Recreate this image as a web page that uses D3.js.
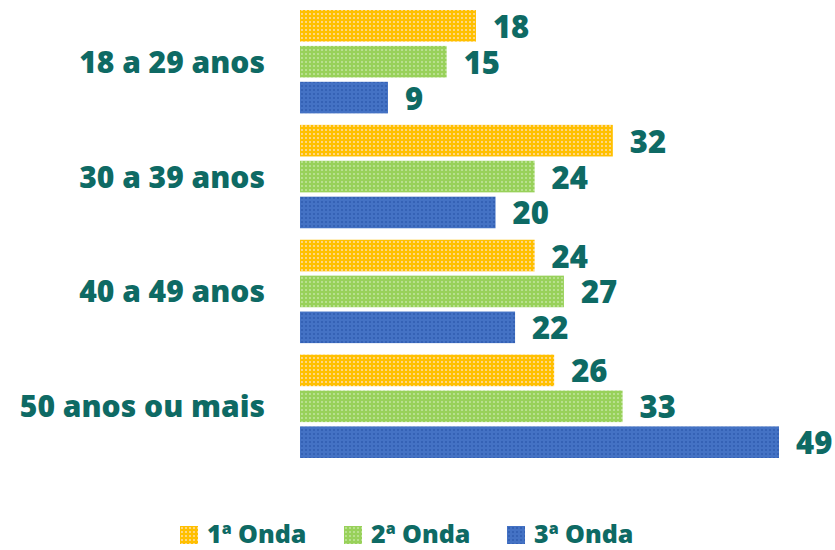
<!DOCTYPE html>
<html><head><meta charset="utf-8">
<script src="https://cdn.jsdelivr.net/npm/d3@7"></script>
<style>body{margin:0;background:#fff}svg{display:block}</style>
</head><body><svg id="c" width="835" height="550"></svg>
<script>
const categories = ["18 a 29 anos", "30 a 39 anos", "40 a 49 anos", "50 anos ou mais"];
const seriesNames = ["1ª Onda", "2ª Onda", "3ª Onda"];
const onda1 = [18, 32, 24, 26];
const onda2 = [15, 24, 27, 33];
const onda3 = [9, 20, 22, 49];
const seriesValues = [onda1, onda2, onda3];
const colors = [
  {base: "#FFC000", dot: "#FFD680"},
  {base: "#98D15A", dot: "#B8E08E"},
  {base: "#4472C4", dot: "#3562B5"}
];
const textColor = "#0E6A64";
const font = "'Open Sans', 'DejaVu Sans', sans-serif";

const svg = d3.select("#c");
const defs = svg.append("defs");
colors.forEach((c, i) => {
  const p = defs.append("pattern").attr("id", "pat" + i)
    .attr("patternUnits", "userSpaceOnUse").attr("width", 4).attr("height", 4);
  p.append("rect").attr("width", 4).attr("height", 4).attr("fill", c.base);
  p.append("rect").attr("x", 1).attr("y", 1).attr("width", 2).attr("height", 2).attr("fill", c.dot);
});

const x = d3.scaleLinear().domain([0, 49]).range([300, 779]);
const y = d3.scaleBand().domain(categories).range([10, 458]).paddingInner(0.1).paddingOuter(0);
const ys = d3.scaleBand().domain(d3.range(3)).range([0, y.bandwidth()]).paddingInner(0.12);

const data = [];
categories.forEach((cat, ci) => {
  seriesValues.forEach((vals, si) => data.push({cat, si, v: vals[ci]}));
});

svg.append("g").selectAll("rect").data(data).join("rect")
  .attr("x", x(0))
  .attr("y", d => y(d.cat) + ys(d.si))
  .attr("width", d => x(d.v) - x(0))
  .attr("height", ys.bandwidth())
  .attr("fill", d => `url(#pat${d.si})`);

svg.append("g").selectAll("text").data(data).join("text")
  .attr("x", d => x(d.v) + 17)
  .attr("y", d => y(d.cat) + ys(d.si) + ys.bandwidth() / 2 + 12)
  .attr("font-family", font).attr("font-weight", 800).attr("font-size", 31)
  .attr("fill", textColor)
  .text(d => d.v);

svg.append("g").selectAll("text").data(categories).join("text")
  .attr("x", 265)
  .attr("y", d => y(d) + y.bandwidth() / 2 + 11)
  .attr("text-anchor", "end")
  .attr("font-family", font).attr("font-weight", 800).attr("font-size", 30)
  .attr("fill", textColor)
  .text(d => d);

const legendX = [180, 344, 507];
const lg = svg.append("g").selectAll("g").data(seriesNames).join("g")
  .attr("transform", (d, i) => `translate(${legendX[i]},526)`);
lg.append("rect").attr("width", 18).attr("height", 18).attr("fill", (d, i) => `url(#pat${i})`);
lg.append("text").attr("x", 27).attr("y", 17)
  .attr("font-family", font).attr("font-weight", 800).attr("font-size", 25)
  .attr("fill", textColor).text(d => d);
</script></body></html>
